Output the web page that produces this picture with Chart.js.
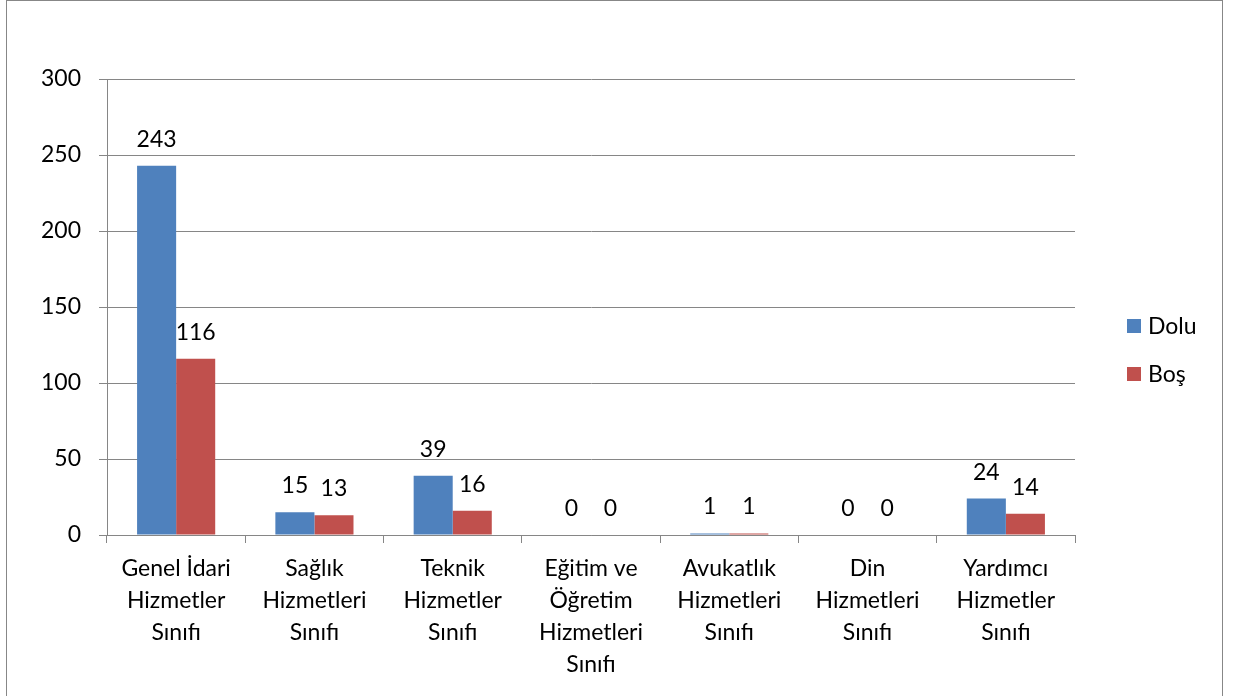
<!DOCTYPE html>
<html>
<head>
<meta charset="utf-8">
<script src="https://cdn.jsdelivr.net/npm/chart.js@4.4.0/dist/chart.umd.min.js"></script>
<style>
html,body{margin:0;padding:0;background:#fff;}
#wrap{width:1233px;height:696px;position:relative;}
</style>
</head>
<body>
<div id="wrap"><canvas id="c" width="1233" height="696"></canvas></div>
<script>
const categories = [
  ["Genel İdari","Hizmetler","Sınıfı"],
  ["Sağlık","Hizmetleri","Sınıfı"],
  ["Teknik","Hizmetler","Sınıfı"],
  ["Eğitim ve","Öğretim","Hizmetleri","Sınıfı"],
  ["Avukatlık","Hizmetleri","Sınıfı"],
  ["Din","Hizmetleri","Sınıfı"],
  ["Yardımcı","Hizmetler","Sınıfı"]
];
const dolu = [243, 15, 39, 0, 1, 0, 24];
const bos = [116, 13, 16, 0, 1, 0, 14];
const seriesNames = ["Dolu", "Boş"];
const yTicks = [0, 50, 100, 150, 200, 250, 300];

const FONT = "Lato";
const FSIZE = 23;
const GRID = "#868686";

const valueLabels = {
  id: 'valueLabels',
  afterDatasetsDraw(chart) {
    const ctx = chart.ctx;
    ctx.save();
    ctx.font = FSIZE + "px " + FONT;
    ctx.fillStyle = "#000";
    ctx.textAlign = "center";
    ctx.textBaseline = "alphabetic";
    chart.data.datasets.forEach((ds, i) => {
      chart.getDatasetMeta(i).data.forEach((bar, j) => {
        ctx.fillText(String(ds.data[j]), bar.x, bar.y - 19);
      });
    });
    ctx.restore();
  }
};

const customLegend = {
  id: 'customLegend',
  afterDraw(chart) {
    const ctx = chart.ctx;
    ctx.save();
    ctx.font = FSIZE + "px " + FONT;
    ctx.textBaseline = "middle";
    ctx.textAlign = "left";
    const x0 = chart.chartArea.right + 52;
    const ys = [326, 374];
    chart.data.datasets.forEach((ds, i) => {
      ctx.fillStyle = ds.backgroundColor;
      ctx.fillRect(x0, ys[i] - 7, 14, 14);
      ctx.fillStyle = "#000";
      ctx.fillText(ds.label, x0 + 21, ys[i] + 1);
    });
    ctx.strokeStyle = "#878787";
    ctx.lineWidth = 1;
    ctx.strokeRect(6.5, 0.5, 1216, 704);
    ctx.restore();
  }
};

new Chart(document.getElementById('c'), {
  type: 'bar',
  data: {
    labels: categories,
    datasets: [
      { label: seriesNames[0], data: dolu, backgroundColor: "#4F81BD", categoryPercentage: 0.565, barPercentage: 1 },
      { label: seriesNames[1], data: bos, backgroundColor: "#C0504D", categoryPercentage: 0.565, barPercentage: 1 }
    ]
  },
  options: {
    responsive: false,
    animation: false,
    layout: { padding: { left: 0, right: 158, top: 79, bottom: 0 } },
    plugins: { legend: { display: false }, tooltip: { enabled: false } },
    scales: {
      x: {
        grid: { display: true, drawOnChartArea: false, drawTicks: true, tickLength: 8, color: GRID, offset: true },
        border: { color: GRID, width: 1 },
        ticks: { color: "#000", font: { family: FONT, size: FSIZE, lineHeight: 1.38 }, padding: 10, maxRotation: 0, autoSkip: false },
        afterFit(scale) { scale.height = 161; }
      },
      y: {
        min: 0, max: 300,
        afterBuildTicks(scale) { scale.ticks = yTicks.map(v => ({ value: v })); },
        grid: { color: GRID, tickLength: 8, drawTicks: true },
        border: { color: GRID, width: 1 },
        ticks: { color: "#000", font: { family: FONT, size: FSIZE }, padding: 18 },
        afterFit(scale) { scale.width = 107; }
      }
    }
  },
  plugins: [valueLabels, customLegend]
});
</script>
</body>
</html>
